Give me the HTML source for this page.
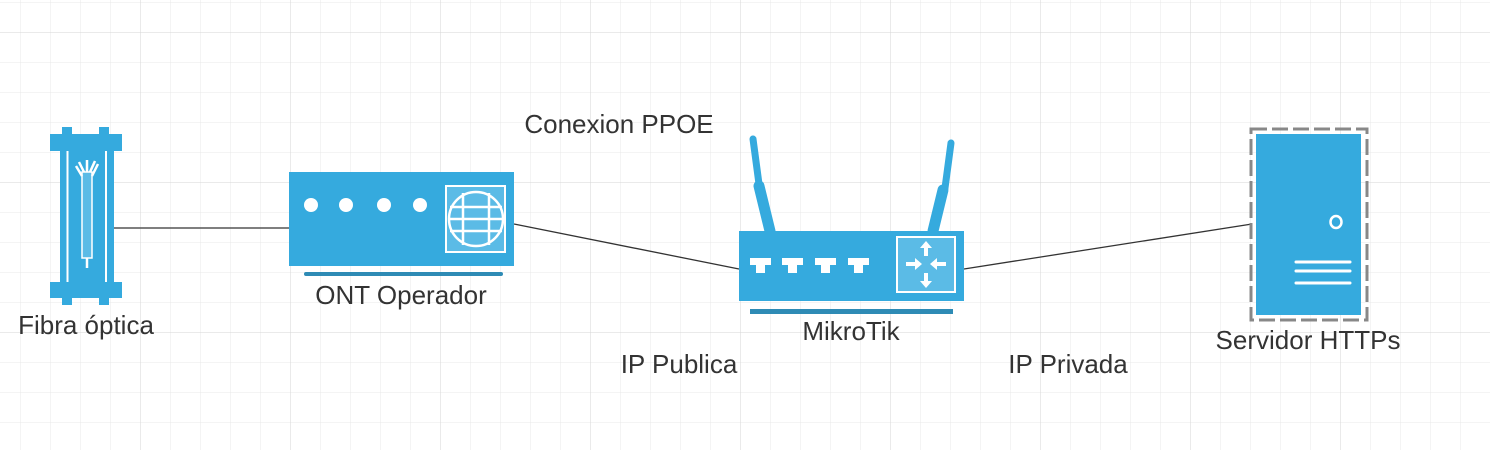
<!DOCTYPE html>
<html><head><meta charset="utf-8"><style>
html,body{margin:0;padding:0;background:#fff;}
svg{display:block;}
text{font-family:"Liberation Sans",sans-serif;font-size:26px;fill:#333;}
</style></head><body>
<svg width="1490" height="450" viewBox="0 0 1490 450" xmlns="http://www.w3.org/2000/svg">
<defs>
<pattern id="g" x="20" y="2" width="30" height="30" patternUnits="userSpaceOnUse">
<path d="M0 0H30M0 0V30" stroke="#e8e8e8" stroke-width="1" fill="none"/>
</pattern>
<pattern id="G" x="140" y="32" width="150" height="150" patternUnits="userSpaceOnUse">
<path d="M0 0H150M0 0V150" stroke="#d6d6d6" stroke-width="1" fill="none"/>
</pattern>
</defs>
<rect width="1490" height="450" fill="url(#g)"/>
<rect width="1490" height="450" fill="url(#G)"/>

<line x1="114" y1="228" x2="289" y2="228" stroke="#555" stroke-width="1.5"/>
<line x1="514" y1="224" x2="739" y2="269" stroke="#333" stroke-width="1.3"/>
<line x1="964" y1="269" x2="1252" y2="224" stroke="#333" stroke-width="1.3"/>

<g fill="#35aade">
<rect x="62" y="127" width="10" height="8"/><rect x="99" y="127" width="10" height="8"/>
<rect x="50" y="134" width="72" height="17"/>
<rect x="60" y="151" width="54" height="131"/>
<rect x="50" y="282" width="72" height="16"/>
<rect x="62" y="297" width="10" height="8"/><rect x="99" y="297" width="10" height="8"/>
</g>
<rect x="66.5" y="151" width="2" height="131" fill="#fff"/>
<rect x="105" y="151" width="2" height="131" fill="#fff"/>
<rect x="82" y="172" width="10" height="86" fill="#5bbbe6" stroke="#fff" stroke-width="1.5"/>
<line x1="87" y1="258" x2="87" y2="268" stroke="#fff" stroke-width="2.5"/>
<g stroke="#fff" stroke-width="2.5" fill="none">
<path d="M87 172V160M82 176L76 166M92 176L98 164M84 172L79 162M90 172L95 161"/>
</g>

<rect x="289" y="172" width="225" height="94" fill="#35aade"/>
<g fill="#fff"><circle cx="311" cy="205" r="7"/><circle cx="346" cy="205" r="7"/><circle cx="384" cy="205" r="7"/><circle cx="420" cy="205" r="7"/></g>
<rect x="446" y="186" width="59" height="66" fill="#5bbbe6" stroke="#fff" stroke-width="2"/>
<g stroke="#fff" stroke-width="2.5" fill="none">
<circle cx="476" cy="219" r="27"/>
<line x1="463" y1="193" x2="463" y2="245"/><line x1="489" y1="193" x2="489" y2="245"/>
<line x1="450" y1="207" x2="502" y2="207"/><line x1="449" y1="219" x2="503" y2="219"/><line x1="450" y1="231" x2="502" y2="231"/>
</g>
<rect x="304" y="272" width="199" height="4" rx="2" fill="#2e8bb5"/>

<g stroke="#35aade" stroke-linecap="round">
<line x1="753" y1="139" x2="759" y2="184" stroke-width="7"/>
<line x1="759" y1="186" x2="770" y2="231" stroke-width="11"/>
<line x1="951" y1="143" x2="945" y2="188" stroke-width="7"/>
<line x1="943" y1="190" x2="933" y2="231" stroke-width="11"/>
</g>
<rect x="739" y="231" width="225" height="70" fill="#35aade"/>
<g fill="#fff">
<path d="M750 258h21v7h-6v8h-9v-8h-6z"/>
<path d="M782 258h21v7h-6v8h-9v-8h-6z"/>
<path d="M815 258h21v7h-6v8h-9v-8h-6z"/>
<path d="M848 258h21v7h-6v8h-9v-8h-6z"/>
</g>
<rect x="897" y="237" width="58" height="55" fill="#5bbbe6" stroke="#fff" stroke-width="2"/>
<g fill="#fff">
<path d="M926 241l-6 7h4v8h4v-8h4z"/>
<path d="M926 288l-6 -7h4v-8h4v8h4z"/>
<path d="M922 264l-7 -6v4h-9v4h9v4z"/>
<path d="M930 264l7 -6v4h9v4h-9v4z"/>
</g>
<rect x="750" y="309" width="203" height="5" fill="#2e8bb5"/>

<rect x="1251" y="129" width="116" height="191" fill="none" stroke="#888" stroke-width="3" stroke-dasharray="16 5"/>
<rect x="1256" y="134" width="105" height="181" fill="#35aade"/>
<ellipse cx="1336" cy="222" rx="5.5" ry="6" fill="none" stroke="#fff" stroke-width="2.5"/>
<g stroke="#fff" stroke-width="3" stroke-linecap="round">
<line x1="1296" y1="262" x2="1350" y2="262"/><line x1="1296" y1="271" x2="1350" y2="271"/><line x1="1296" y1="283" x2="1350" y2="283"/>
</g>

<text x="86" y="334" text-anchor="middle">Fibra óptica</text>
<text x="401" y="304" text-anchor="middle">ONT Operador</text>
<text x="619" y="133" text-anchor="middle">Conexion PPOE</text>
<text x="851" y="340" text-anchor="middle">MikroTik</text>
<text x="679" y="373" text-anchor="middle">IP Publica</text>
<text x="1068" y="373" text-anchor="middle">IP Privada</text>
<text x="1308" y="349" text-anchor="middle">Servidor HTTPs</text>
</svg>
</body></html>
